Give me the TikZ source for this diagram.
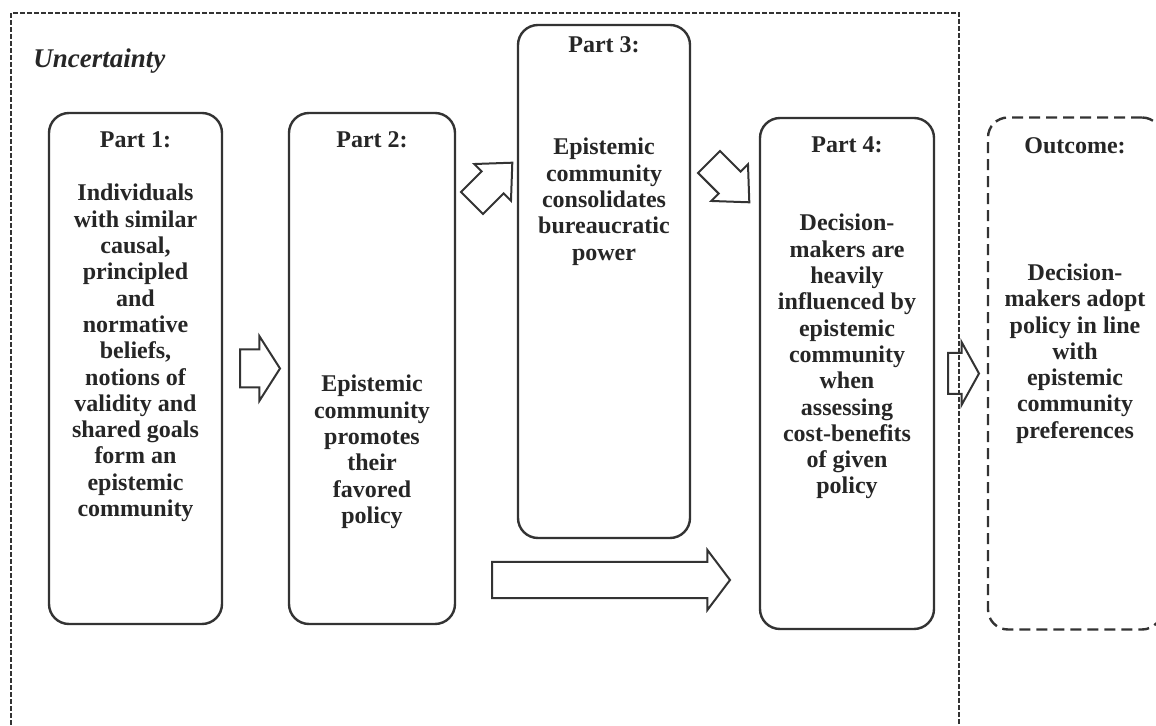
\documentclass[tikz,border=0pt]{standalone}
\usepackage{fontspec}
\setmainfont{Liberation Serif}
\usetikzlibrary{positioning,shapes.arrows}

\tikzset{
  partbox/.style={draw=black!80, line width=1.2pt, rounded corners=10pt,
    minimum height=255.5pt, inner sep=0pt, outer sep=0pt},
  outbox/.style={partbox, dash pattern=on 5.5pt off 3pt},
  frame/.style={draw=black!80, line width=1.2pt, dash pattern=on 2.5pt off 1pt},
  parttitle/.style={font={\bfseries\fontsize{12}{13.15}\selectfont}, text=black!85, inner sep=0pt},
  parttext/.style={parttitle, align=center},
  blockarrow/.style={single arrow, draw=black!80, line width=1pt, inner sep=0pt, outer sep=0pt}
}

\begin{document}
\begin{tikzpicture}[x=0.5pt, y=-0.5pt]
    \clip (0,0) rectangle (1156,726);

    % Define boxes
    \node[partbox, minimum width=86.5pt]						(p1)	at (135.5,368.5) {};
    \node[partbox, minimum width=83pt, right=33.5pt of p1]		(p2)	{};
    \node[partbox, minimum width=86pt, minimum height=256.5pt, right=31.5pt of p2, yshift=43.5pt] (p3) {};
    \node[partbox, minimum width=87pt, right=35pt of p3, yshift=-46pt]	(p4)	{};
    \node[outbox, minimum width=87pt, minimum height=256pt, right=27pt of p4] (out) {};

    % Uncertainty frame
    \draw[frame] (11,13) rectangle (959,780);
    \node[anchor=base west, text=black!85, inner sep=0pt,
      font={\bfseries\itshape\fontsize{13.5}{15}\selectfont}] (unc) at (33,68) {Uncertainty};

    % Titles
    \node[parttitle, below=17.5pt of p1.north, anchor=base]	(t1)	{Part 1:};
    \node[parttitle, below=17.5pt of p2.north, anchor=base]	(t2)	{Part 2:};
    \node[parttitle, below=14pt of p3.north, anchor=base]	(t3)	{Part 3:};
    \node[parttitle, below=17.5pt of p4.north, anchor=base]	(t4)	{Part 4:};
    \node[parttitle, below=18pt of out.north, anchor=base]	(to)	{Outcome:};

    % Texts (base = baseline of the last line)
    \node[parttext, below=201.8pt of p1.north, anchor=base] (b1)
      {Individuals\\with similar\\causal,\\principled\\and\\normative\\beliefs,\\notions of\\validity and\\shared goals\\form an\\epistemic\\community};
    \node[parttext, below=205.25pt of p2.north, anchor=base] (b2)
      {Epistemic\\community\\promotes\\their\\favored\\policy};
    \node[parttext, below=117.6pt of p3.north, anchor=base] (b3)
      {Epistemic\\community\\consolidates\\bureaucratic\\power};
    \node[parttext, below=188pt of p4.north, anchor=base] (b4)
      {Decision-\\makers are\\heavily\\influenced by\\epistemic\\community\\when\\assessing\\cost-benefits\\of given\\policy};
    \node[parttext, below=160.4pt of out.north, anchor=base] (bo)
      {Decision-\\makers adopt\\policy in line\\with\\epistemic\\community\\preferences};

    % Block arrows
    \node[blockarrow, minimum height=20pt, inner ysep=9pt, single arrow head extend=6.75pt,
      single arrow tip angle=115, right=9pt of p1] (a12) {};
    \node[blockarrow, minimum height=28.5pt, inner ysep=7.25pt, single arrow head extend=5.25pt,
      single arrow tip angle=86, rotate=45, anchor=tail] (a23) at (472,203) {};
    \node[blockarrow, minimum height=28.5pt, inner ysep=7.25pt, single arrow head extend=5.25pt,
      single arrow tip angle=86, rotate=-45, anchor=tail] (a34) at (709,162) {};
    \node[blockarrow, minimum height=119pt, inner ysep=8.5pt, single arrow head extend=6pt,
      single arrow tip angle=106, anchor=tail] (a24) at (492,580) {};
    \node[blockarrow, minimum height=15.5pt, inner ysep=9.75pt, single arrow head extend=5.5pt,
      single arrow tip angle=122, right=7pt of p4] (a4o) {};
\end{tikzpicture}
\end{document}
